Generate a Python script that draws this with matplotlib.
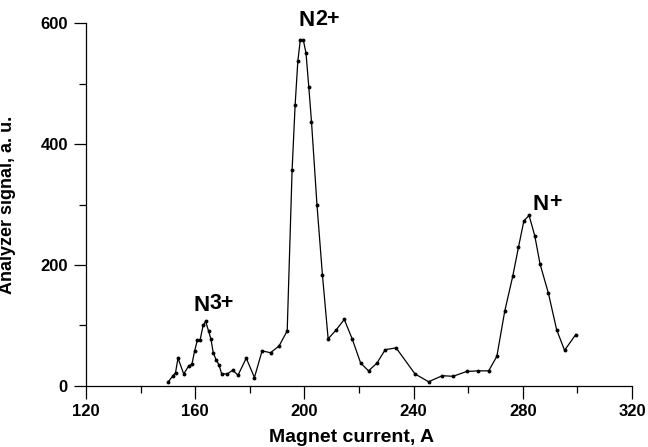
import matplotlib
matplotlib.use('Agg')
import matplotlib.pyplot as plt
from matplotlib.ticker import MultipleLocator
from matplotlib.transforms import offset_copy

plt.rcParams['font.family'] = ['Liberation Sans', 'DejaVu Sans']
plt.rcParams['font.weight'] = 'bold'

# magnet current (A) and analyzer signal (a. u.)
current = [150, 151.7, 152.8, 153.7, 155.8, 157.6, 158.8, 159.8, 160.8, 161.8,
           162.9, 163.8, 164.9, 165.8, 166.6, 167.7, 168.7, 169.7, 171.8, 173.7,
           175.7, 178.7, 181.7, 184.5, 187.6, 190.7, 193.7, 195.5, 196.6, 197.6,
           198.5, 199.6, 200.6, 201.6, 202.6, 204.6, 206.6, 208.7, 211.7, 214.6,
           217.5, 220.6, 223.5, 226.6, 229.6, 233.6, 240.5, 245.5, 250.5, 254.5,
           259.4, 263.6, 267.5, 270.5, 273.4, 276.3, 278.4, 280.4, 282.3, 284.4,
           286.3, 289.4, 292.4, 295.3, 299.4]
signal = [6, 16, 22, 46, 20, 33, 36, 58, 76, 76,
          100, 107, 91, 77, 55, 43, 35, 20, 20, 26,
          18, 46, 14, 58, 55, 66, 91, 357, 464, 537,
          572, 572, 550, 495, 437, 300, 184, 78, 93, 110,
          78, 38, 25, 38, 60, 63, 20, 7, 17, 16,
          24, 25, 25, 49, 124, 181, 229, 273, 282, 248,
          202, 153, 93, 59, 85]

# peak labels: (base, charge, x, y top)
peaks = [('N', '3+', 159.2, 151),
         ('N', '2+', 197.9, 621),
         ('N', '+', 283.4, 318)]

fig = plt.figure(figsize=(6.48, 4.47), dpi=100)
ax = fig.add_axes([0.1327, 0.1365, 0.8426, 0.812])

ax.plot(current, signal, color='black', linewidth=0.9, marker='o',
        markersize=2.8, markerfacecolor='black', markeredgewidth=0)

ax.set_xlim(120, 320)
ax.set_ylim(0, 600)
ax.xaxis.set_major_locator(MultipleLocator(40))
ax.xaxis.set_minor_locator(MultipleLocator(20))
ax.yaxis.set_major_locator(MultipleLocator(200))
ax.yaxis.set_minor_locator(MultipleLocator(100))
ax.tick_params(which='major', direction='out', length=9, width=0.9,
               labelsize=12, pad=4)
ax.tick_params(which='minor', direction='out', length=5, width=0.9)
for lbl in ax.get_xticklabels() + ax.get_yticklabels():
    lbl.set_fontweight('bold')

ax.spines['top'].set_visible(False)
ax.spines['right'].set_visible(False)
ax.spines['left'].set_linewidth(0.9)
ax.spines['bottom'].set_linewidth(0.9)

ax.set_xlabel('Magnet current, A', fontsize=14, fontweight='bold')
ax.xaxis.set_label_coords(0.486, -0.118)
ax.set_ylabel('Analyzer signal, a. u.', fontsize=13, fontweight='bold')
ax.yaxis.set_label_coords(-0.128, 0.5)

for base, charge, x, y in peaks:
    ax.text(x, y, base, fontsize=16, fontweight='bold', ha='left',
            va='top', clip_on=False)
    tr = offset_copy(ax.transData, fig=fig, x=12.2, y=1.0, units='points')
    ax.text(x, y, charge, fontsize=15.5, fontweight='bold', ha='left',
            va='top', transform=tr, clip_on=False)

fig.savefig('out.png', dpi=100)
